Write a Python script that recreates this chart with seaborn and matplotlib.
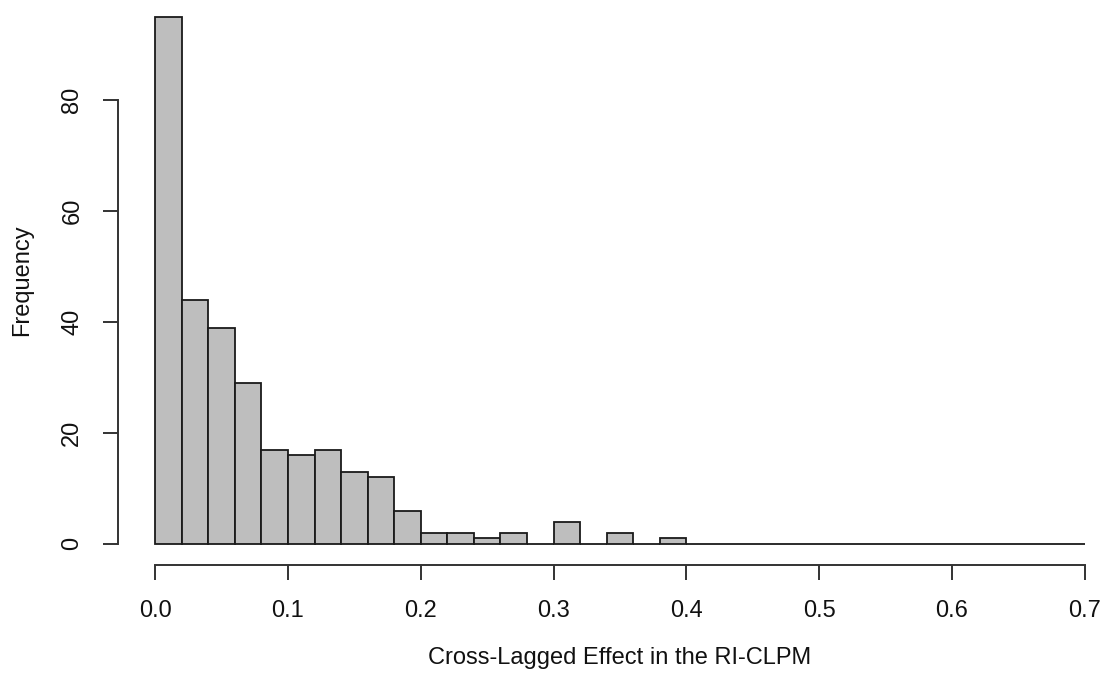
import numpy as np
import pandas as pd
import seaborn as sns
import matplotlib
matplotlib.use('Agg')
import matplotlib.pyplot as plt

# bin left edges (width 0.02) and counts
bin_width = 0.02
bin_starts = [round(i * bin_width, 2) for i in range(35)]
counts = [95, 44, 39, 29, 17, 16, 17, 13, 12, 6,
          2, 2, 1, 2, 0, 4, 0, 2, 0, 1,
          0, 0, 0, 0, 0, 0, 0, 0, 0, 0,
          0, 0, 0, 0, 0]
x_ticks = [0.0, 0.1, 0.2, 0.3, 0.4, 0.5, 0.6, 0.7]
y_ticks = [0, 20, 40, 60, 80]

df = pd.DataFrame({'mid': np.array(bin_starts) + bin_width / 2, 'n': counts})
edges = [round(b, 2) for b in bin_starts] + [round(bin_starts[-1] + bin_width, 2)]

sns.set_style('white')
plt.rcParams['font.family'] = ['Liberation Sans', 'DejaVu Sans']

fig = plt.figure(figsize=(11.08, 6.75), dpi=100)
# R-style plot region with 4% padding on both axes
ax = fig.add_axes([118 / 1108, 1 - 565 / 675, 1004 / 1108, 569.3 / 675])

sns.histplot(data=df, x='mid', weights='n', bins=edges, ax=ax,
             color='#BEBEBE', alpha=1, edgecolor='#1a1a1a', linewidth=1.3)

ax.set_xlim(-0.028, 0.728)
ax.set_ylim(-3.8, 98.8)

for side in ['top', 'right']:
    ax.spines[side].set_visible(False)
ax.spines['left'].set_bounds(0, 80)
ax.spines['bottom'].set_bounds(0, 0.7)
for side in ['left', 'bottom']:
    ax.spines[side].set_linewidth(1.4)
    ax.spines[side].set_color('#333333')

ax.set_xticks(x_ticks)
ax.set_xticklabels([f'{t:.1f}' for t in x_ticks])
ax.set_yticks(y_ticks)
ax.set_yticklabels([str(t) for t in y_ticks], rotation=90, va='center')
ax.tick_params(axis='both', length=10.5, width=1.4, color='#333333',
               labelsize=17, labelcolor='#111111', pad=14.5, direction='out')
ax.tick_params(axis='both', which='both', bottom=True, left=True)

ax.set_xlabel('Cross-Lagged Effect in the RI-CLPM', fontsize=17, labelpad=18.5, color='#111111')
ax.set_ylabel('Frequency', fontsize=17, labelpad=20, color='#111111')

fig.savefig('out.png', dpi=100)
